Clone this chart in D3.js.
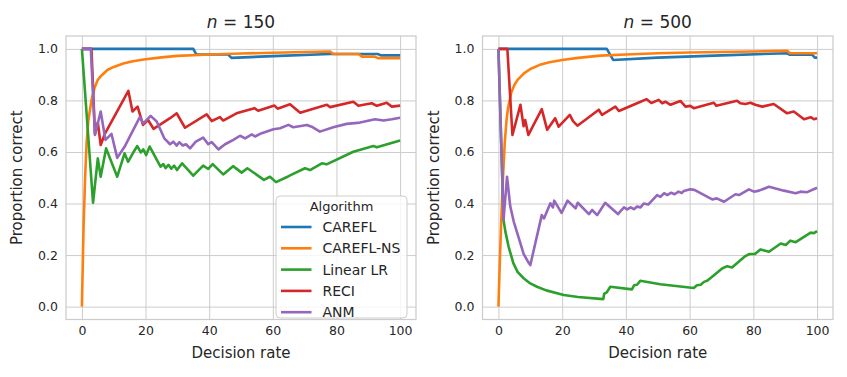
<!DOCTYPE html>
<html><head><meta charset="utf-8">
<script src="https://cdn.jsdelivr.net/npm/d3@7"></script>
<style>body{margin:0;background:#fff}svg{display:block}text{font-family:"DejaVu Sans",sans-serif;fill:#262626}</style>
</head><body><svg id="c" width="847" height="377"></svg>
<script>
// ---------- data ----------
const algorithms = ["CAREFL","CAREFL-NS","Linear LR","RECI","ANM"];
const colors = ["#1f77b4","#ff7f0e","#2ca02c","#d62728","#9467bd"];
const xTicks = [0,20,40,60,80,100];
const yTicks = [0,0.2,0.4,0.6,0.8,1.0];
const panelNs = ["150","500"];

// n = 150
const carefl150X = [0,35,36,46,47,60,78,93,94,100];
const carefl150Y = [1,1,0.978,0.978,0.965,0.972,0.98,0.98,0.975,0.975];
const careflNs150X = [0,0.5,1,1.5,2,3,4,5,6,8,10,13,16,20,25,30,40,50,60,70,78,79,87,88,92,93,100];
const careflNs150Y = [0,0.3,0.5,0.64,0.72,0.80,0.85,0.88,0.895,0.918,0.93,0.943,0.952,0.96,0.967,0.973,0.978,0.982,0.985,0.988,0.99,0.98,0.98,0.97,0.97,0.964,0.964];
const linear150X = [0,3.5,5,5.9,7.6,11.1,13.4,14.5,16,17.4,18.5,19.3,20.2,21.3,24.7,25.6,26.3,27.2,28.1,29,29.9,31.5,35,38.1,39.7,41.1,44.4,47.5,50.2,52,57.2,59.1,61,64.8,66.4,70.1,71.7,75.4,76.9,85.3,91.6,92.7,100];
const linear150Y = [1,0.403,0.575,0.504,0.614,0.504,0.595,0.562,0.595,0.623,0.598,0.61,0.588,0.621,0.543,0.553,0.537,0.55,0.535,0.547,0.53,0.556,0.508,0.547,0.534,0.553,0.513,0.545,0.52,0.537,0.492,0.504,0.483,0.505,0.515,0.537,0.53,0.556,0.552,0.601,0.623,0.618,0.645];
const reci150X = [0,3,4.1,5,5.9,7.2,14.6,15.9,17.5,19.2,20.8,22.5,27.7,29.8,32.4,39.2,40.8,43.4,44.4,48.6,54.2,55.4,60.5,61.5,65.4,68.6,73.8,77,78,85.3,86.9,91.1,92.7,95.8,97.4,100];
const reci150Y = [1,1,0.67,0.715,0.627,0.67,0.837,0.757,0.776,0.705,0.724,0.69,0.731,0.75,0.694,0.746,0.72,0.735,0.722,0.75,0.77,0.76,0.78,0.768,0.785,0.752,0.772,0.783,0.774,0.795,0.779,0.789,0.779,0.791,0.776,0.78];
const anm150X = [0,2.8,4.1,5.9,7.4,9.3,11.1,13.4,18.2,19.3,21.6,23.5,25.9,27.7,28.7,29.8,30.6,31.7,32.7,34,35.8,38.1,39.7,40.8,42.9,45,47.6,49.7,51.3,53.4,54.4,56.5,60.2,62.3,64.9,66.4,70.7,72.2,74.8,79,83.2,87.4,92.1,94.8,97.4,100];
const anm150Y = [1,1,0.666,0.757,0.647,0.67,0.577,0.62,0.735,0.711,0.74,0.718,0.653,0.63,0.64,0.625,0.638,0.625,0.63,0.614,0.64,0.656,0.63,0.638,0.61,0.63,0.647,0.663,0.653,0.668,0.66,0.673,0.688,0.692,0.705,0.696,0.705,0.698,0.679,0.696,0.709,0.714,0.727,0.722,0.727,0.733];

// n = 500
const carefl500X = [0,34,36,50,70,90.6,91.5,98.5,99.3,100];
const carefl500Y = [1,1,0.957,0.966,0.975,0.983,0.977,0.977,0.966,0.966];
const careflNs500X = [0,0.5,1,1.5,2,2.6,3,4,5,6,8,10,13,16,20,25,32,40,50,60,70,80,90.6,91.5,100];
const careflNs500Y = [0,0.2,0.37,0.52,0.64,0.73,0.77,0.83,0.86,0.88,0.905,0.922,0.938,0.948,0.957,0.965,0.974,0.978,0.983,0.986,0.988,0.99,0.993,0.983,0.983];
const linear500X = [0,1.6,2.2,3.2,4.7,6,7.9,10,12.1,15,20.5,25,32.9,33.2,34,35.1,41.9,42.6,43.5,44.5,50.8,61.3,62.3,63.5,64.5,65.5,66.5,70.2,71.8,73.3,77.5,78.8,80.5,82.2,84.9,88.6,90.2,91.6,93.3,98,99,100];
const linear500Y = [1,0.336,0.29,0.232,0.168,0.135,0.11,0.09,0.077,0.063,0.045,0.037,0.029,0.05,0.055,0.077,0.067,0.083,0.085,0.1,0.087,0.072,0.083,0.085,0.096,0.1,0.11,0.148,0.157,0.152,0.196,0.204,0.204,0.222,0.213,0.245,0.239,0.256,0.25,0.287,0.285,0.293];
const reci500X = [0,2.8,4.4,6.9,7.9,8.4,9.4,13.6,15.3,17.8,18.9,22.4,23.4,24.8,31.5,32.5,36.7,37.8,44.6,46.5,48,50.3,51.4,52.4,54,57.1,58.7,60.2,61.3,67.6,68.4,74.9,75.9,77.5,79.1,80.6,82.8,86.4,90.6,92.7,95.9,98,99,100];
const reci500Y = [1,1,0.666,0.783,0.70,0.724,0.666,0.766,0.686,0.731,0.698,0.744,0.72,0.702,0.764,0.744,0.776,0.759,0.795,0.805,0.79,0.802,0.789,0.795,0.783,0.798,0.776,0.779,0.77,0.791,0.779,0.799,0.789,0.786,0.791,0.783,0.776,0.786,0.75,0.757,0.727,0.735,0.727,0.731];
const anm500X = [0,1.6,2.7,3.7,4.8,6.3,7.9,9.4,10,13.6,14.3,16.3,17.1,17.5,19.8,21.7,24.2,24.9,28.4,29.4,31,33.5,37.5,39.4,40.4,41.5,42.5,43.5,44.6,45.6,47,49.8,50.8,52,53,54.2,55.3,56.5,57.5,58.2,60.2,61.5,67.1,68.5,70.8,74.4,75.5,78.6,80.2,81.8,84.9,86.4,89.6,93.3,94.8,96.9,100];
const anm500Y = [1,0.336,0.504,0.39,0.33,0.27,0.205,0.172,0.161,0.355,0.342,0.401,0.385,0.411,0.364,0.411,0.381,0.403,0.359,0.375,0.355,0.403,0.359,0.385,0.377,0.385,0.378,0.388,0.385,0.40,0.396,0.433,0.426,0.44,0.433,0.442,0.436,0.446,0.441,0.449,0.455,0.453,0.416,0.42,0.407,0.436,0.433,0.455,0.446,0.45,0.465,0.46,0.45,0.44,0.446,0.444,0.461];

const seriesByPanel = [
  [[carefl150X,carefl150Y],[careflNs150X,careflNs150Y],[linear150X,linear150Y],[reci150X,reci150Y],[anm150X,anm150Y]],
  [[carefl500X,carefl500Y],[careflNs500X,careflNs500Y],[linear500X,linear500Y],[reci500X,reci500Y],[anm500X,anm500Y]]
];

// ---------- drawing ----------
(function(){
const svg = d3.select("#c");
const yTop = 36, yBot = 319.5;
const panels = [{x0:66, x1:416, legend:true}, {x0:482.5, x1:833, legend:false}];
const grid = "#cccccc";

panels.forEach((p, i) => {
  const x = d3.scaleLinear().domain([-5,105]).range([p.x0, p.x1]);
  const y = d3.scaleLinear().domain([-0.05,1.05]).range([yBot, yTop]);
  const g = svg.append("g");

  const gx = g.append("g").attr("transform",`translate(0,${yBot})`)
    .call(d3.axisBottom(x).tickValues(xTicks).tickSize(-(yBot-yTop)).tickPadding(7).tickFormat(d3.format("d")));
  const gy = g.append("g").attr("transform",`translate(${p.x0},0)`)
    .call(d3.axisLeft(y).tickValues(yTicks).tickSize(-(p.x1-p.x0)).tickPadding(8).tickFormat(d3.format(".1f")));
  [gx, gy].forEach(a => {
    a.select(".domain").remove();
    a.selectAll(".tick line").attr("stroke", grid).attr("stroke-width", 1);
    a.selectAll(".tick text").attr("fill","#262626").style("font-size","12.5px").style("font-family","DejaVu Sans");
  });

  g.append("rect").attr("x",p.x0).attr("y",yTop).attr("width",p.x1-p.x0).attr("height",yBot-yTop)
    .attr("fill","none").attr("stroke",grid).attr("stroke-width",1.25);

  const cid = "clip"+i;
  svg.append("clipPath").attr("id",cid).append("rect")
    .attr("x",p.x0).attr("y",yTop).attr("width",p.x1-p.x0).attr("height",yBot-yTop);

  const line = d3.line().x(d=>x(d[0])).y(d=>y(d[1]));
  const lg = g.append("g").attr("clip-path",`url(#${cid})`);
  seriesByPanel[i].forEach((s, k) => {
    const pts = s[0].map((v, j) => [v, s[1][j]]);
    lg.append("path").datum(pts).attr("d", line)
      .attr("fill","none").attr("stroke", colors[k]).attr("stroke-width", 2.6)
      .attr("stroke-linejoin","round").attr("stroke-linecap","butt");
  });

  const cx = (p.x0 + p.x1) / 2;
  const t = g.append("text").attr("x", cx).attr("y", 28).attr("text-anchor","middle").style("font-size","17px");
  t.append("tspan").attr("font-style","italic").text("n");
  t.append("tspan").text(" = " + panelNs[i]);
  g.append("text").attr("x", cx).attr("y", 358).attr("text-anchor","middle").style("font-size","15px").text("Decision rate");
  g.append("text").attr("transform",`translate(${p.x0-44},${(yTop+yBot)/2}) rotate(-90)`)
    .attr("text-anchor","middle").style("font-size","15px").text("Proportion correct");

  if (p.legend) {
    const lx = 276, ly = 196, lw = 131, lh = 122;
    const L = g.append("g");
    L.append("rect").attr("x",lx).attr("y",ly).attr("width",lw).attr("height",lh).attr("rx",4)
      .attr("fill","#ffffff").attr("fill-opacity",0.8).attr("stroke","#cccccc").attr("stroke-width",1);
    L.append("text").attr("x", lx+lw/2).attr("y", ly+15).attr("text-anchor","middle").style("font-size","13px").text("Algorithm");
    algorithms.forEach((a, k) => {
      const yy = ly + 31 + k*21.3;
      L.append("line").attr("x1",281).attr("x2",311.5).attr("y1",yy).attr("y2",yy)
        .attr("stroke",colors[k]).attr("stroke-width",2.6);
      L.append("text").attr("x",322.5).attr("y",yy+5).style("font-size","14px").text(a);
    });
  }
});
})();
</script>
</body></html>
